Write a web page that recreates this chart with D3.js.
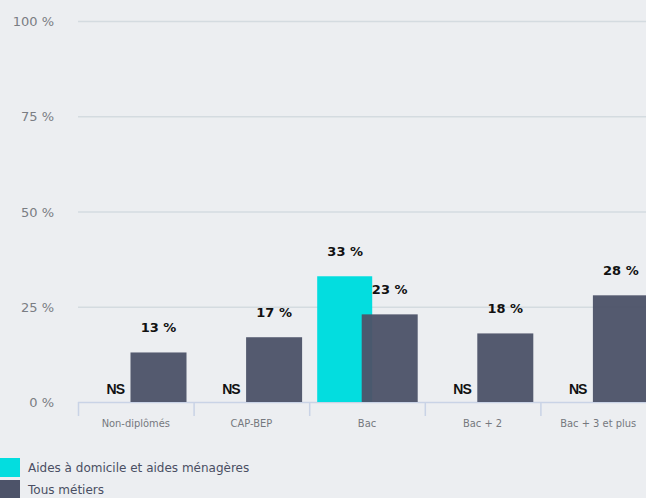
<!DOCTYPE html>
<html>
<head>
<meta charset="utf-8">
<script src="https://cdn.jsdelivr.net/npm/d3@7"></script>
<style>
  body { margin: 0; background: #eceef1; }
  svg { display: block; }
</style>
</head>
<body>
<div id="chart"></div>
<script>
// Données
const categories = ["Non-diplômés", "CAP-BEP", "Bac", "Bac + 2", "Bac + 3 et plus"];
const aidesValues = [null, null, 33, null, null];   // null = NS
const tousValues = [13, 17, 23, 18, 28];
const yTicks = [0, 25, 50, 75, 100];
const seriesNames = ["Aides à domicile et aides ménagères", "Tous métiers"];
const colors = ["#03dddf", "#4d5369"];

const svg = d3.select("#chart").append("svg")
    .attr("width", 646)
    .attr("height", 498);

const plotLeft = 78, plotTop = 21, plotBottom = 402;

const x = d3.scaleBand()
    .domain(categories)
    .range([plotLeft, plotLeft + 5 * 115.6])
    .padding(0);

const y = d3.scaleLinear()
    .domain([0, 100])
    .range([plotBottom, plotTop]);

const barW = 56;
const offA = 8, offB = 52.5;

// gridlines
svg.append("g")
    .selectAll("line")
    .data(yTicks)
    .enter()
    .append("line")
    .attr("x1", plotLeft)
    .attr("x2", 646)
    .attr("y1", d => y(d) + 0.5)
    .attr("y2", d => y(d) + 0.5)
    .attr("stroke", d => d === 0 ? "#c9d3e6" : "#d4dbe0")
    .attr("stroke-width", 1.5);

// y labels
svg.append("g")
    .selectAll("text")
    .data(yTicks)
    .enter()
    .append("text")
    .attr("x", 54)
    .attr("y", d => y(d) + 5)
    .attr("text-anchor", "end")
    .style("font-family", "DejaVu Sans")
    .style("font-size", "13px")
    .style("fill", "#7a7d83")
    .text(d => `${d} %`);

// x axis ticks (band boundaries)
const bounds = categories.map(c => x(c));
svg.append("g")
    .selectAll("line")
    .data(bounds)
    .enter()
    .append("line")
    .attr("x1", d => d + 0.5)
    .attr("x2", d => d + 0.5)
    .attr("y1", plotBottom)
    .attr("y2", plotBottom + 14)
    .attr("stroke", "#c9d3e6")
    .attr("stroke-width", 1.5);

svg.append("g")
    .selectAll("text")
    .data(categories)
    .enter()
    .append("text")
    .attr("x", d => x(d) + x.bandwidth() / 2)
    .attr("y", plotBottom + 25)
    .attr("text-anchor", "middle")
    .style("font-family", "DejaVu Sans Condensed, DejaVu Sans")
    .style("font-size", "11px")
    .style("fill", "#75787e")
    .text(d => d);

// barres série 1
svg.append("g")
    .selectAll("rect")
    .data(categories.map((c, i) => ({ c, v: aidesValues[i] })).filter(d => d.v !== null))
    .enter()
    .append("rect")
    .attr("x", d => x(d.c) + offA)
    .attr("width", barW - 1)
    .attr("y", d => y(d.v))
    .attr("height", d => y(0) - y(d.v))
    .attr("fill", colors[0]);

// barres série 2
svg.append("g")
    .selectAll("rect")
    .data(categories.map((c, i) => ({ c, v: tousValues[i] })))
    .enter()
    .append("rect")
    .attr("x", d => x(d.c) + offB)
    .attr("width", barW)
    .attr("y", d => y(d.v))
    .attr("height", d => y(0) - y(d.v))
    .attr("fill", colors[1])
    .attr("fill-opacity", 0.96);

// étiquettes série 1 (valeur ou NS)
svg.append("g")
    .selectAll("text")
    .data(categories.map((c, i) => ({ c, v: aidesValues[i] })))
    .enter()
    .append("text")
    .attr("x", d => x(d.c) + offA + barW / 2)
    .attr("y", d => d.v === null ? plotBottom - 8 : y(d.v) - 20)
    .attr("text-anchor", d => d.v === null ? "end" : "middle")
    .attr("dx", d => d.v === null ? 10 : 0)
    .style("font-family", d => d.v === null ? "Liberation Sans" : "DejaVu Sans")
    .style("font-size", d => d.v === null ? "14px" : "13px")
    .style("font-weight", "bold")
    .style("letter-spacing", d => d.v === null ? "-1px" : "0px")
    .style("fill", "#111")
    .text(d => d.v === null ? "NS" : `${d.v} %`);

// étiquettes série 2
svg.append("g")
    .selectAll("text")
    .data(categories.map((c, i) => ({ c, v: tousValues[i] })))
    .enter()
    .append("text")
    .attr("x", d => x(d.c) + offB + barW / 2)
    .attr("y", d => y(d.v) - 20)
    .attr("text-anchor", "middle")
    .style("font-family", "DejaVu Sans")
    .style("font-size", "13px")
    .style("font-weight", "bold")
    .style("fill", "#111")
    .text(d => `${d.v} %`);

// légende
const legend = svg.append("g")
    .selectAll("g")
    .data(seriesNames)
    .enter()
    .append("g")
    .attr("transform", (d, i) => `translate(0,${458 + i * 22})`);

legend.append("rect")
    .attr("width", 20)
    .attr("height", 19)
    .attr("fill", (d, i) => colors[i]);

legend.append("text")
    .attr("x", 28)
    .attr("y", 14)
    .style("font-family", "DejaVu Sans")
    .style("font-size", "12px")
    .style("fill", "#4a4e63")
    .text(d => d);
</script>
</body>
</html>
